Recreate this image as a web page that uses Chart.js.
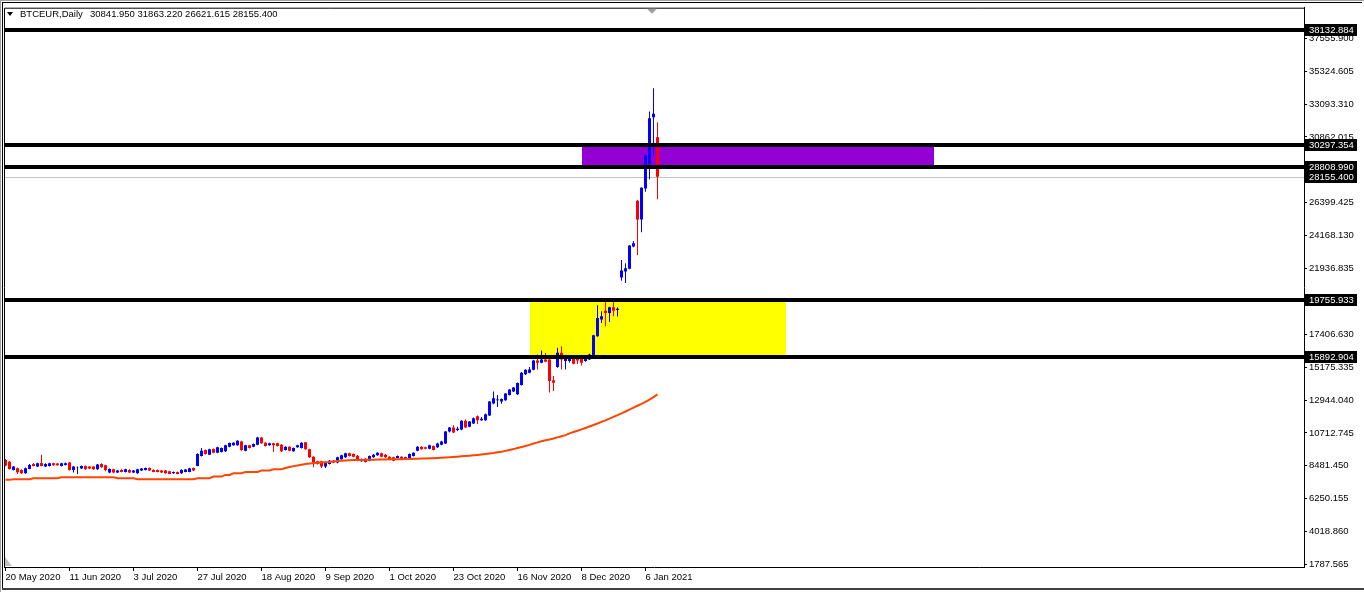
<!DOCTYPE html>
<html><head><meta charset="utf-8">
<script src="https://cdn.jsdelivr.net/npm/chart.js@4/dist/chart.umd.min.js"></script>
<style>
html,body{margin:0;padding:0;background:#fff;}
#wrap{position:relative;width:1364px;height:592px;overflow:hidden;}
canvas{position:absolute;left:0;top:0;}
.hdr{position:absolute;top:8px;font:9.5px "Liberation Sans",Arial,sans-serif;line-height:11px;color:#000;white-space:pre;}
#tri{position:absolute;left:7px;top:12px;width:0;height:0;border-left:3.5px solid transparent;border-right:3.5px solid transparent;border-top:4px solid #000;}
</style></head><body>
<div id="wrap"><canvas id="c" width="1364" height="592"></canvas>
<div id="tri"></div><span class="hdr" id="sym" style="left:20px"></span><span class="hdr" id="ohlc" style="left:90px"></span></div>
<script>
// ---- data (bar index 0..163, daily bars) ----
const symbolName = 'BTCEUR,Daily';
const opens = [8870,8757,8193,8306,8193,7967,8261,8599,8419,8667,
8419,8464,8644,8622,8464,8532,8690,8193,8374,8283,
8464,8419,8419,8238,8599,8509,8012,8238,8012,8193,
8057,8193,8012,7967,8148,8193,8328,8193,8193,8148,
8148,8102,7967,8057,7967,8057,8057,8328,8464,9141,
9548,9232,9616,9367,9412,9458,9774,9864,9864,10135,
9503,9864,9774,9910,10406,10045,9864,10000,10000,9910,
9548,9774,9458,9729,9684,10068,9593,9096,8780,8780,
8419,8599,8825,8690,8916,9051,9322,9277,9164,8780,
8961,8825,9051,9187,9322,9232,9096,9051,9006,9096,
8961,9006,9141,9503,9774,9729,9638,9819,9729,9909,
9999,10813,11084,10903,10948,11536,11129,11355,11852,11581,
11581,11897,12710,12936,12846,12936,13298,13524,13343,13975,
14698,14811,15014,15646,15488,15714,15714,14291,15195,16166,
15601,15601,15872,15782,15782,15601,15714,16008,17295,18425,
19035,18877,19261,19080,21293,21700,21880,23394,26511,25246,
27346,29040,32203,30841.950];
const highs = [8940,8800,8460,8350,8240,8350,8600,8660,8680,9232,
8640,8680,8680,8660,8680,8690,8730,8450,8420,8500,
8500,8450,8450,8590,8640,8550,8300,8270,8190,8230,
8280,8230,8190,8270,8320,8360,8360,8230,8220,8180,
8180,8130,8090,8090,8230,8250,8340,8360,9320,9684,
9590,9630,9650,9770,9720,9900,10060,10080,10220,10170,
9900,9900,9990,10450,10440,10080,10040,10040,10040,9950,
9810,9810,9720,9900,10080,10100,9630,9130,8810,8810,
8770,8860,8860,9090,9230,9360,9360,9310,9200,8970,
8990,9180,9270,9400,9360,9270,9130,9090,9180,9130,
9090,9310,9400,9810,9810,9770,9900,9860,10040,10170,
10850,11120,11230,11130,11580,11620,11530,11760,11890,11800,
12030,12890,13524,13298,13060,13430,13700,13830,14150,14850,
15050,15200,15690,16053,16324,16150,15760,14585,16505,16618,
15870,15850,15920,15830,15830,15870,16100,17400,19396,18990,
19622,19300,19622,19261,22490,22264,23500,23778,26560,27430,
29650,32587,34168,31863.220];
const lows = [8440,8220,8150,7920,7920,7930,8230,8430,8390,8420,
8390,8430,8480,8470,8430,8500,8150,8020,7922,8250,
8210,8250,8210,8210,8340,8100,7970,7970,7990,8030,
8020,7980,7990,7940,8120,8160,8120,8030,8030,7990,
7940,7900,7940,7900,7940,8030,8030,8120,8440,9100,
9240,9200,9330,9330,9380,9420,9740,9830,9830,9500,
9470,9650,9740,9880,9970,9790,9830,9412,9790,9420,
9510,9470,9430,9700,9650,9560,9010,8374,8560,8330,
8330,8560,8650,8650,8880,9010,9100,9060,8780,8750,
8700,8790,9020,9150,9060,9000,8880,8790,8970,8880,
8930,8970,9110,9470,9560,9600,9600,9510,9690,9870,
9960,10745,10700,10850,10900,11040,11090,11310,11310,11540,
11540,11860,12670,12484,12700,12900,13260,13490,13300,13940,
14660,14770,14980,15036,15450,15520,13455,13568,15150,15036,
15036,15500,15380,15400,15300,15560,15680,15970,17250,18200,
17973,18267,18650,18628,21067,20909,21850,23350,22829,24365,
27121,27979,29605,26621.615];
const closes = [8486,8261,8419,8035,7967,8306,8532,8464,8644,8464,
8599,8644,8509,8509,8644,8644,8193,8419,8390,8464,
8238,8283,8238,8554,8374,8193,8261,8012,8148,8057,
8238,8012,8148,8238,8283,8328,8148,8057,8057,8012,
7967,7922,8057,7922,8193,8215,8306,8148,9277,9503,
9277,9593,9367,9729,9684,9864,10022,10045,10181,9548,
9864,9684,9955,10406,10000,9819,10000,9864,9819,9458,
9774,9503,9684,9864,10045,9593,9051,8690,8599,8419,
8735,8825,8690,9051,9187,9322,9141,9096,8825,8938,
8735,9141,9232,9367,9096,9051,8916,8825,9141,8916,
9051,9277,9367,9774,9593,9638,9864,9548,9999,10135,
10813,11084,10745,10993,11536,11084,11490,11716,11581,11671,
11987,12846,13072,12981,13026,13388,13659,13795,14111,14811,
15014,15036,15646,15488,15714,15556,14246,14133,16166,15714,
15827,15759,15420,15646,15488,15827,16053,17363,18538,18651,
18877,19261,19035,19170,21768,21926,23461,23620,25246,27392,
29605,32135,32429,28155.400];
const maValues = [7515,7515,7560,7560,7560,7560,7560,7628,7628,7628,
7628,7628,7628,7628,7696,7696,7696,7696,7696,7696,
7696,7696,7696,7696,7696,7696,7696,7696,7628,7628,
7628,7628,7628,7560,7560,7560,7560,7560,7560,7560,
7560,7560,7560,7560,7560,7560,7560,7560,7628,7628,
7628,7628,7741,7741,7741,7854,7854,7967,7967,7967,
8057,8057,8057,8057,8148,8148,8148,8238,8238,8238,
8328,8390,8450,8500,8550,8590,8625,8655,8680,8700,
8712,8730,8770,8800,8825,8840,8855,8865,8870,8875,
8880,8885,8890,8900,8905,8910,8915,8918,8920,8925,
8930,8935,8945,8955,8965,8975,8985,8995,9005,9020,
9035,9055,9075,9095,9115,9135,9160,9185,9210,9240,
9270,9305,9340,9390,9435,9490,9548,9610,9683,9750,
9819,9900,9990,10067,10140,10210,10270,10330,10406,10480,
10564,10680,10770,10860,10950,11050,11150,11250,11350,11460,
11570,11680,11800,11920,12040,12170,12300,12430,12560,12690,
12830,12980,13150,13330];
const dateTickBars = [0,16,32,48,64,80,96,112,128,144,160];
const dateLabels = ['20 May 2020','11 Jun 2020','3 Jul 2020','27 Jul 2020','18 Aug 2020','9 Sep 2020','1 Oct 2020','23 Oct 2020','16 Nov 2020','8 Dec 2020','6 Jan 2021'];
const priceTicks = [37555.900,35324.605,33093.310,30862.015,26399.425,24168.130,21936.835,17406.630,15175.335,12944.040,10712.745,8481.450,6250.155,4018.860,1787.565];
const levelValues = [38132.884,30297.354,28808.990,19755.933,15892.904];
const currentPrice = 28155.400;
const zoneStartBars = [144,131];
const zoneEndBars = [232,195];
const zoneHighs = [30297.354,19755.933];
const zoneLows = [28808.990,15892.904];
const zoneColors = ['#9400D3','#FFFF00'];

// ---- header ----
const last = opens.length-1;
document.getElementById('sym').textContent = symbolName;
document.getElementById('ohlc').textContent = [opens[last],highs[last],lows[last],closes[last]].map(v=>v.toFixed(3)).join(' ');

const FONT = {family:'"Liberation Sans", Arial, sans-serif', size:9.5};
const colors = opens.map((o,i)=> closes[i] < o ? '#FF0000' : '#0000FF');

const deco = {
  id:'deco',
  beforeDraw(chart){const c=chart.ctx;c.save();c.fillStyle='#fff';c.fillRect(0,0,chart.width,chart.height);c.restore();},
  beforeDatasetsDraw(chart){
    const {ctx, chartArea:a, scales:{x,y}} = chart;
    ctx.save();
    ctx.beginPath(); ctx.rect(a.left,a.top,a.right-a.left,a.bottom-a.top); ctx.clip();
    for(let k=0;k<zoneStartBars.length;k++){
      const x0=Math.round(x.getPixelForValue(zoneStartBars[k])), x1=Math.round(x.getPixelForValue(zoneEndBars[k]));
      const y0=Math.round(y.getPixelForValue(zoneHighs[k])), y1=Math.round(y.getPixelForValue(zoneLows[k]));
      ctx.fillStyle=zoneColors[k]; ctx.fillRect(x0,y0,x1-x0,y1-y0);
    }
    const cy=Math.round(y.getPixelForValue(currentPrice))+0.5;
    ctx.strokeStyle='#C0C0C0'; ctx.lineWidth=1; ctx.beginPath(); ctx.moveTo(a.left,cy); ctx.lineTo(a.right,cy); ctx.stroke();
    ctx.restore();
  },
  afterDatasetsDraw(chart){
    const {ctx, chartArea:a, scales:{y}} = chart;
    ctx.save(); ctx.fillStyle='#000';
    levelValues.forEach(v=>{const py=Math.round(y.getPixelForValue(v)); ctx.fillRect(a.left,py-2,a.right-a.left,4);});
    ctx.restore();
  },
  afterDraw(chart){
    const {ctx, chartArea:a, scales:{y}} = chart;
    ctx.save();
    ctx.font = '9.5px "Liberation Sans", Arial, sans-serif';
    ctx.textBaseline='middle'; ctx.textAlign='left';
    levelValues.concat([currentPrice]).forEach(v=>{
      const py=Math.round(y.getPixelForValue(v));
      ctx.fillStyle='#000'; ctx.fillRect(a.right+1,py-6,52,12);
      ctx.fillStyle='#fff'; ctx.fillText(v.toFixed(3),a.right+5,py+0.5);
    });
    // frame
    ctx.strokeStyle='#000'; ctx.lineWidth=1;
    ctx.beginPath(); ctx.moveTo(a.left+0.5,a.bottom); ctx.lineTo(a.left+0.5,a.top+0.5); ctx.lineTo(a.right,a.top+0.5); ctx.stroke();
    ctx.fillStyle='#000'; ctx.fillRect(2,2,1360,1); ctx.fillRect(2,2,1,587);
    ctx.fillStyle='#A0A0A0'; ctx.fillRect(0,0,1364,1); ctx.fillRect(0,0,1,592);
    ctx.fillStyle='#404040'; ctx.fillRect(2,588,1362,2);
    // shift marker & grip
    ctx.fillStyle='#A0A0A0';
    ctx.beginPath(); ctx.moveTo(647,a.top+1); ctx.lineTo(657,a.top+1); ctx.lineTo(652,a.top+6); ctx.closePath(); ctx.fill();
    ctx.fillStyle='#C0C0C0';
    ctx.beginPath(); ctx.moveTo(a.left+1,a.bottom-10); ctx.lineTo(a.left+1,a.bottom-1); ctx.lineTo(a.left+8,a.bottom-1); ctx.closePath(); ctx.fill();
    ctx.restore();
  }
};

new Chart(document.getElementById('c'), {
  type:'bar',
  data:{datasets:[
    {type:'line', data:maValues.map((v,i)=>({x:i,y:v})), borderColor:'#FF4500', borderWidth:2, pointRadius:0, tension:0, order:0},
    {data:opens.map((o,i)=>({x:i,y:[o,closes[i]]})), backgroundColor:colors, barThickness:3, grouped:false, inflateAmount:0, borderWidth:0, order:1},
    {data:lows.map((l,i)=>({x:i,y:[l,highs[i]]})), backgroundColor:colors, barThickness:1, grouped:false, inflateAmount:0, borderWidth:0, order:2}
  ]},
  options:{
    responsive:false, animation:false, devicePixelRatio:1,
    layout:{padding:{left:4,top:5,right:0,bottom:0}},
    plugins:{legend:{display:false}, tooltip:{enabled:false}},
    scales:{
      x:{type:'linear', min:-0.375, max:324.625, offset:false,
        afterBuildTicks:s=>{s.ticks=dateTickBars.map(v=>({value:v}));},
        afterFit:s=>{s.height=25;},
        grid:{display:true, drawOnChartArea:false, drawTicks:true, tickLength:4, color:'#000', offset:false},
        border:{display:true, color:'#000', width:1},
        ticks:{autoSkip:false, maxRotation:0, minRotation:0, align:'start', padding:1, color:'#000', font:FONT,
          callback:(v,i)=>dateLabels[i]}},
      y:{type:'linear', position:'right', min:1584.3, max:39655.9, beginAtZero:false,
        afterBuildTicks:s=>{s.ticks=priceTicks.map(v=>({value:v}));},
        afterFit:s=>{s.width=60;},
        grid:{display:true, drawOnChartArea:false, drawTicks:true, tickLength:3, color:'#000'},
        border:{display:true, color:'#000', width:1},
        ticks:{autoSkip:false, padding:2, color:'#000', font:FONT, callback:v=>Number(v).toFixed(3)}}
    }
  },
  plugins:[deco]
});
</script></body></html>
